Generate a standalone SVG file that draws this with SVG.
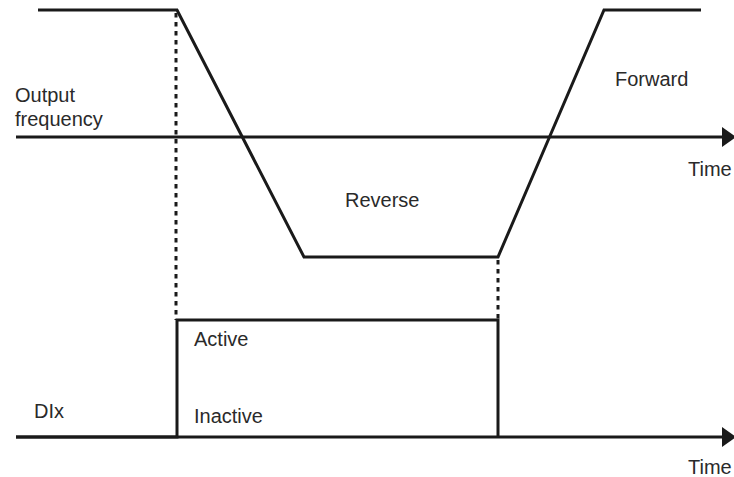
<svg xmlns="http://www.w3.org/2000/svg" width="734" height="477" viewBox="0 0 734 477">
<style>
.ln{fill:none;stroke:#1a1a1a;stroke-width:3;stroke-linejoin:miter}
.ds{fill:none;stroke:#1a1a1a;stroke-width:3;stroke-dasharray:4.5 4.5}
text{font-family:"Liberation Sans",Arial,sans-serif;font-size:20px;fill:#2a2a2a}
</style>
<defs>
<marker id="ah" markerWidth="14" markerHeight="20" refX="0" refY="10" orient="auto" markerUnits="userSpaceOnUse">
<path d="M0,0 L14,10 L0,20 Z" fill="#1a1a1a"/>
</marker>
</defs>
<g id="connectors">
<line class="ln" x1="16" y1="137" x2="722" y2="137" marker-end="url(#ah)"/>
<line class="ln" x1="16" y1="437" x2="722" y2="437" marker-end="url(#ah)"/>
<polyline class="ln" points="38,10 177,10 304,257 498,257 604,10 701,10"/>
<line class="ds" x1="176" y1="13" x2="176" y2="320"/>
<line class="ds" x1="498" y1="260" x2="498" y2="320"/>
<polyline class="ln" points="16,437 177,437 177,320 498,320 498,437"/>
</g>
<g id="labels">
<text x="15" y="102">Output</text>
<text x="15" y="126">frequency</text>
<text x="615" y="86">Forward</text>
<text x="688" y="176">Time</text>
<text x="345" y="207">Reverse</text>
<text x="194" y="346">Active</text>
<text x="194" y="423">Inactive</text>
<text x="34" y="418">DIx</text>
<text x="688" y="474">Time</text>
</g>
</svg>
